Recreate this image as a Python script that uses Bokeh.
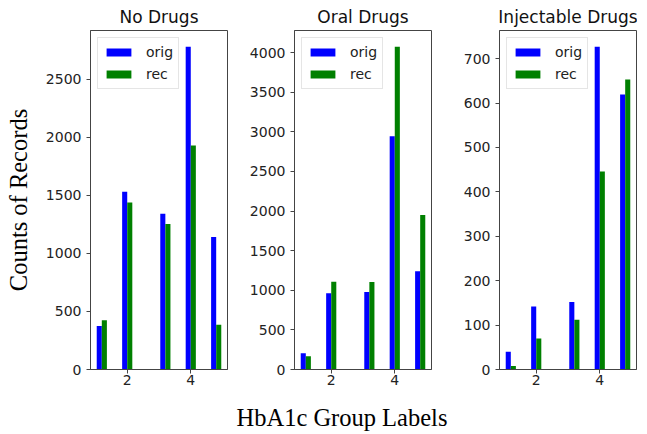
import numpy as np
from bokeh.plotting import figure
from bokeh.layouts import row
from bokeh.models import Range1d, FixedTicker, Title, Legend, LegendItem
from bokeh.embed import file_html
from bokeh.resources import INLINE

# ---- data ----
groups = [1, 2, 3, 4, 5]
panel_titles = ["No Drugs", "Oral Drugs", "Injectable Drugs"]
no_orig = [375, 1532, 1342, 2782, 1141]
no_rec = [425, 1440, 1253, 1931, 385]
oral_orig = [206, 962, 979, 2946, 1240]
oral_rec = [168, 1109, 1105, 4076, 1950]
inj_orig = [40, 142, 152, 727, 619]
inj_rec = [8, 70, 112, 446, 653]
x_ticks = [2, 4]
y_ticks_no = [0, 500, 1000, 1500, 2000, 2500]
y_ticks_oral = [0, 500, 1000, 1500, 2000, 2500, 3000, 3500, 4000]
y_ticks_inj = [0, 100, 200, 300, 400, 500, 600, 700]
series_names = ["orig", "rec"]
x_label = "HbA1c Group Labels"
y_label = "Counts of Records"

# ---- histogram style binning (10 bins over the group range) ----
edges = np.linspace(min(groups), max(groups), 11)
bin_w = edges[1] - edges[0]
idx = np.clip(np.digitize(groups, edges) - 1, 0, 9)
centers = (edges[idx] + edges[idx + 1]) / 2
bar_w = 0.8 * bin_w / 2
x_orig = centers - bar_w / 2
x_rec = centers + bar_w / 2
x_lo = x_orig.min() - bar_w / 2
x_hi = x_rec.max() + bar_w / 2
pad = 0.05 * (x_hi - x_lo)
X0, X1 = x_lo - pad, x_hi + pad

FRAME_W, FRAME_H = 137, 339
TOP, BOTTOM = 30, 61
TXT = "#222222"
FRAME_C = "#444444"

panels = [
    (no_orig, no_rec, y_ticks_no, 90, 5),
    (oral_orig, oral_rec, y_ticks_oral, 62, 20),
    (inj_orig, inj_rec, y_ticks_inj, 48, 1),
]

figs = []
for i, (orig, rec, yt, bl, br) in enumerate(panels):
    ymax = 1.05 * max(max(orig), max(rec))
    p = figure(frame_width=FRAME_W, frame_height=FRAME_H,
               min_border_left=bl, min_border_right=br,
               min_border_top=TOP, min_border_bottom=BOTTOM,
               x_range=Range1d(X0, X1), y_range=Range1d(0, ymax),
               output_backend="svg", toolbar_location=None,
               title=panel_titles[i])
    p.title.align = "center"
    p.title.text_font = "DejaVu Sans"
    p.title.text_font_size = "17px"
    p.title.text_font_style = "normal"
    p.title.text_color = "#111111"
    p.title.standoff = 7
    p.title.offset = 0

    r1 = p.vbar(x=x_orig, top=orig, width=bar_w, color="#0000ff", line_color=None)
    r2 = p.vbar(x=x_rec, top=rec, width=bar_w, color="#008000", line_color=None)

    p.xgrid.visible = False
    p.ygrid.visible = False
    p.outline_line_color = FRAME_C
    p.outline_line_width = 1
    p.outline_line_alpha = 1
    p.xaxis.ticker = FixedTicker(ticks=x_ticks)
    p.yaxis.ticker = FixedTicker(ticks=yt)
    for ax in (p.xaxis, p.yaxis):
        ax.axis_line_color = FRAME_C
        ax.major_tick_line_color = FRAME_C
        ax.major_tick_in = 0
        ax.major_tick_out = 4
        ax.minor_tick_line_color = None
        ax.major_label_text_font = "DejaVu Sans"
        ax.major_label_text_font_size = "14px"
        ax.major_label_text_color = TXT
    p.xaxis.major_label_standoff = 1
    p.yaxis.major_label_orientation = "horizontal"
    p.yaxis.major_label_standoff = 5

    legend = Legend(items=[LegendItem(label=series_names[0], renderers=[r1]),
                           LegendItem(label=series_names[1], renderers=[r2])],
                    location="top_left")
    legend.margin = 7
    legend.padding = 5
    legend.spacing = 4
    legend.glyph_width = 31
    legend.glyph_height = 10
    legend.label_height = 18
    legend.label_standoff = 12
    legend.label_text_font = "DejaVu Sans"
    legend.label_text_font_size = "14px"
    legend.label_text_color = TXT
    legend.border_line_color = "#cccccc"
    legend.border_line_width = 1
    legend.background_fill_alpha = 0.8
    p.add_layout(legend, "center")

    if i == 0:
        p.yaxis.axis_label = y_label
        p.yaxis.axis_label_text_font = "Liberation Serif"
        p.yaxis.axis_label_text_font_size = "24.5px"
        p.yaxis.axis_label_text_font_style = "normal"
        p.yaxis.axis_label_text_color = "#000000"
        p.yaxis.axis_label_standoff = 11
    if i == 1:
        t = Title(text=x_label, align="left", offset=-58, standoff=28,
                  text_font="Liberation Serif", text_font_size="24.5px",
                  text_font_style="normal", text_color="#000000")
        p.add_layout(t, "below")
    figs.append(p)

layout = row(*figs)
open("out.html", "w").write(file_html(layout, INLINE))
